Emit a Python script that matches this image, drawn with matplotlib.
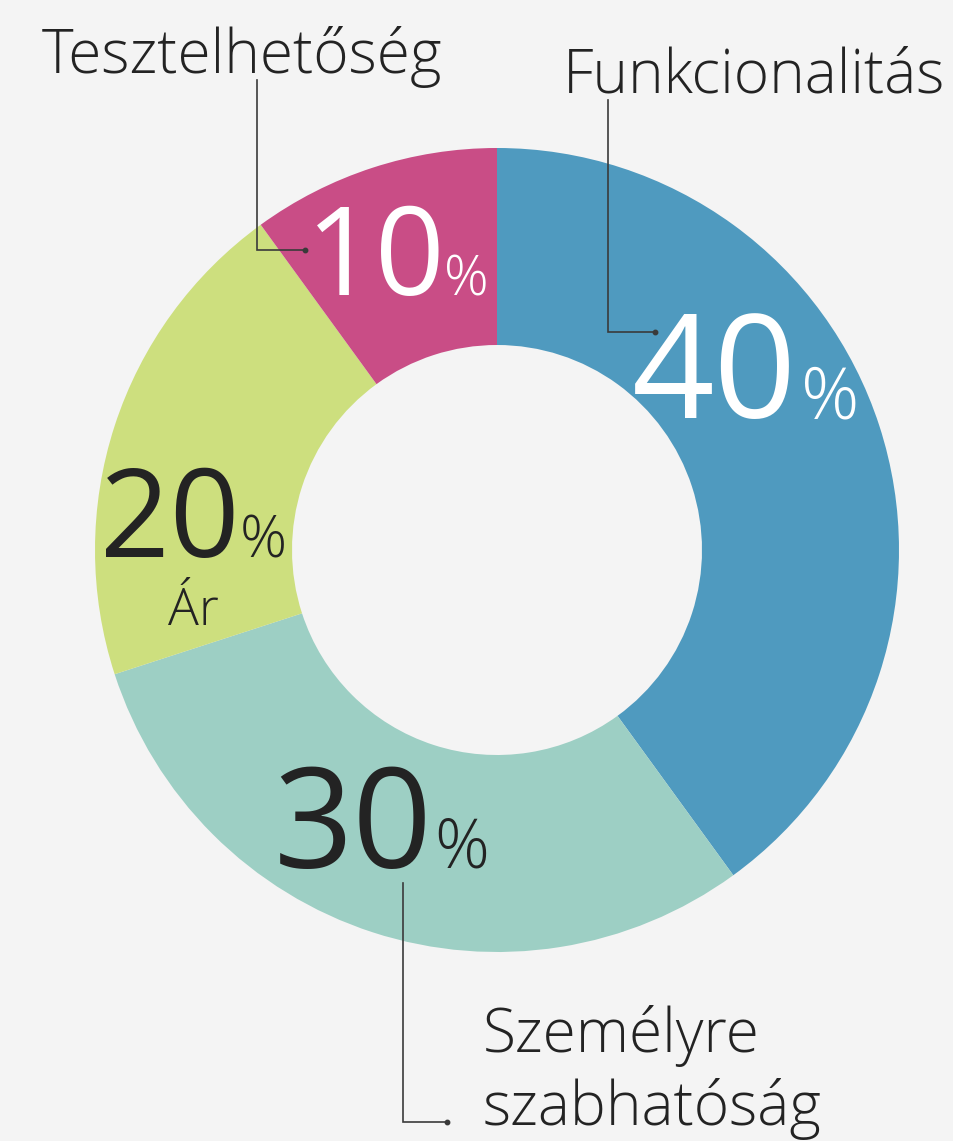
import matplotlib
matplotlib.use("Agg")
import matplotlib.pyplot as plt

# Share of each criterion, clockwise from the top
categories = ["Funkcionalitás", "Személyre szabhatóság", "Ár", "Tesztelhetőség"]
shares = [40, 30, 20, 10]
colors = ["#4f9abf", "#9dcfc4", "#cddf7e", "#c94d86"]

W, H = 954, 1141
BG = "#f4f4f4"
DARK = "#232323"
LINE = "#3a3a3a"

plt.rcParams["font.family"] = ["Open Sans", "DejaVu Sans"]

fig = plt.figure(figsize=(W / 100, H / 100), dpi=100, facecolor=BG)
ax = fig.add_axes([0, 0, 1, 1])
ax.set_facecolor(BG)


def Y(y):
    # pixel row measured from the top -> data y
    return H - y


ax.pie(
    shares,
    colors=colors,
    startangle=90,
    counterclock=False,
    radius=402,
    center=(497, Y(550)),
    wedgeprops=dict(width=197, linewidth=0),
)
ax.set_xlim(0, W)
ax.set_ylim(0, H)
ax.set_aspect("equal")
ax.set_axis_off()

renderer = fig.canvas.get_renderer()


def pct(x, y, value, size, psize, gap, color):
    num = ax.text(x, Y(y), str(value), fontsize=size, color=color,
                  ha="left", va="baseline")
    x1 = num.get_window_extent(renderer).x1
    ax.text(x1 + gap, Y(y), "%", fontsize=psize, color=color,
            ha="left", va="baseline", fontweight="light")


pct(632, 418, shares[0], 104, 52, 4, "white")
pct(274, 868, shares[1], 100, 49, 2, DARK)
pct(100, 557, shares[2], 88, 42, 0, DARK)
pct(306, 295, shares[3], 88, 40, -2, "white")

ax.text(194, Y(625), categories[2], fontsize=37, color=DARK,
        ha="center", va="baseline", fontweight="light")

# outside labels
label_kw = dict(fontsize=43.5, color=DARK, ha="left", va="baseline",
                fontweight="light")
ax.text(42, Y(73), categories[3], **label_kw)
ax.text(563, Y(92), categories[0], **label_kw)
first, second = categories[1].split()
ax.text(483, Y(1052), first, **label_kw)
ax.text(483, Y(1125), second, **label_kw)

# leader lines with a dot at the end
leaders = [
    ([257, 257, 305], [80, 250, 250]),
    ([608, 608, 655], [100, 332, 332]),
    ([403, 403, 447], [883, 1122, 1122]),
]
for xs, ys in leaders:
    ax.plot(xs, [Y(v) for v in ys], color=LINE, lw=1.2,
            solid_joinstyle="miter")
    ax.plot(xs[-1], Y(ys[-1]), "o", color=LINE, ms=3.2)

fig.savefig("out.png", dpi=100, facecolor=BG)
